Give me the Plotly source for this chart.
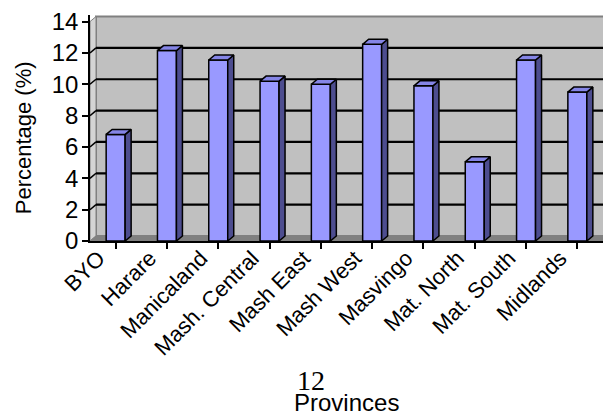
import plotly.graph_objects as go

# Survey share by province
provinces = ["BYO", "Harare", "Manicaland", "Mash. Central", "Mash East",
             "Mash West", "Masvingo", "Mat. North", "Mat. South", "Midlands"]
percentages = [6.8, 12.15, 11.55, 10.2, 10.0, 12.55, 9.9, 5.05, 11.55, 9.5]
y_ticks = [0, 2, 4, 6, 8, 10, 12, 14]

# pseudo-3D depth offsets (data units) and bar face width
DX = 0.117
DY = 0.32
W = 0.37
X0, X1 = -0.5, len(provinces) - 0.5
YTOP = 14

xs = list(range(len(provinces)))

fig = go.Figure()

# side and top faces of each column
side_x, side_y, top_x, top_y = [], [], [], []
for i, v in zip(xs, percentages):
    r = i + W / 2
    l = i - W / 2
    side_x += [r, r + DX, r + DX, r, r, None]
    side_y += [0, DY, v + DY, v, 0, None]
    top_x += [l, l + DX, r + DX, r, l, None]
    top_y += [v, v + DY, v + DY, v, v, None]

fig.add_trace(go.Bar(x=xs, y=percentages, width=W,
                     marker=dict(color="#9999FF", line=dict(color="black", width=1.5)),
                     hoverinfo="skip"))
fig.add_trace(go.Scatter(x=side_x, y=side_y, mode="lines", fill="toself",
                         fillcolor="#4D4D8F", line=dict(color="black", width=1.5),
                         hoverinfo="skip"))
fig.add_trace(go.Scatter(x=top_x, y=top_y, mode="lines", fill="toself",
                         fillcolor="#8585E6", line=dict(color="black", width=1.5),
                         hoverinfo="skip"))

shapes = []
# back wall
shapes.append(dict(type="rect", xref="x", yref="y", layer="below",
                   x0=X0 + DX, x1=X1 + DX, y0=DY, y1=YTOP + DY,
                   fillcolor="#C0C0C0", line=dict(color="#808080", width=2)))
# left side wall
shapes.append(dict(type="path", xref="x", yref="y", layer="below",
                   path=f"M{X0},0 L{X0 + DX},{DY} L{X0 + DX},{YTOP + DY} L{X0},{YTOP} Z",
                   fillcolor="#D4D4D4", line=dict(color="#808080", width=1)))
# floor
shapes.append(dict(type="path", xref="x", yref="y", layer="below",
                   path=f"M{X0},0 L{X1},0 L{X1 + DX},{DY} L{X0 + DX},{DY} Z",
                   fillcolor="#808080", line=dict(color="#808080", width=1)))
# gridlines on back wall and their run across the side wall
for t in y_ticks[1:-1]:
    shapes.append(dict(type="line", xref="x", yref="y", layer="below",
                       x0=X0 + DX, x1=X1 + DX, y0=t + DY, y1=t + DY,
                       line=dict(color="black", width=2.2)))
    shapes.append(dict(type="line", xref="x", yref="y", layer="below",
                       x0=X0, x1=X0 + DX, y0=t, y1=t + DY,
                       line=dict(color="black", width=1.5)))

fig.update_layout(
    width=603, height=417,
    margin=dict(l=90, r=0, t=15, b=176),
    paper_bgcolor="white", plot_bgcolor="white",
    showlegend=False,
    shapes=shapes,
    font=dict(family="Liberation Sans, Arial, sans-serif", color="black"),
    xaxis=dict(range=[X0, X1], tickmode="array", tickvals=xs, ticktext=provinces,
               tickangle=-45, tickson="boundaries", ticks="outside", ticklen=6,
               tickwidth=1.5, tickcolor="black", showline=True, linecolor="black",
               linewidth=1.5, showgrid=False, zeroline=False,
               ticklabelshift=-17, ticklabelstandoff=-12,
               tickfont=dict(size=22)),
    yaxis=dict(range=[0, 14.42], tickmode="array", tickvals=y_ticks,
               ticks="outside", ticklen=6, tickwidth=1.5, tickcolor="black",
               showline=True, linecolor="black", linewidth=1.5, showgrid=False,
               zeroline=False, ticklabelstandoff=-1, tickfont=dict(size=24)),
    annotations=[
        dict(text="Percentage (%)", xref="paper", yref="paper",
             x=-0.128, y=0.456, xanchor="center", yanchor="middle",
             textangle=-90, showarrow=False, font=dict(size=22)),
        dict(text="12", xref="paper", yref="paper", x=0.431, y=0, yanchor="top",
             yshift=-122, showarrow=False,
             font=dict(family="Liberation Serif, Times New Roman, serif", size=28)),
        dict(text="Provinces", xref="paper", yref="paper", x=0.5, y=0,
             yanchor="top", yshift=-146, showarrow=False, font=dict(size=24)),
    ],
)

fig.write_html("out.html")
